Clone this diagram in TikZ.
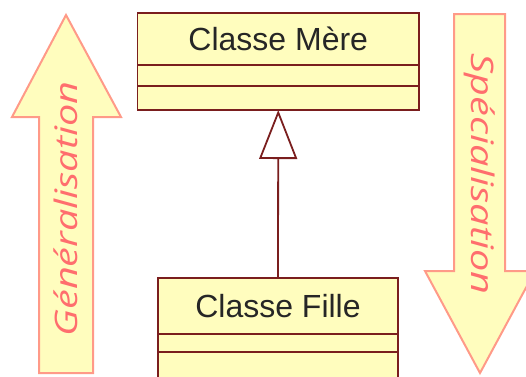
\documentclass[tikz,border=0pt]{standalone}
\usepackage{fontspec}
\setmainfont{Liberation Sans}
\newfontfamily\handfont{Open Sans}
\usetikzlibrary{positioning,arrows.meta}
\definecolor{classfill}{HTML}{FFFDBE}
\definecolor{classline}{HTML}{7A1E1E}
\definecolor{arrowline}{HTML}{FF9A88}
\definecolor{arrowtext}{HTML}{FF6E6E}
\tikzstyle{classname} = [draw=classline, fill=classfill, line width=1.8pt, inner sep=0pt, outer sep=0pt, text=black!85, font=\fontsize{32}{36}\selectfont]
\tikzstyle{compart} = [draw=classline, fill=classfill, line width=1.8pt, inner sep=0pt, outer sep=0pt]
\tikzstyle{inherit} = [draw=classline, line width=1.8pt, -{Triangle[open, length=49pt, width=38pt]}]
\tikzstyle{bigarrow} = [draw=arrowline, fill=classfill, line width=2pt]
\tikzstyle{arrowlabel} = [text=arrowtext, yscale=1.28, font=\handfont\itshape\fontsize{31}{32}\selectfont]

\begin{document}
\begin{tikzpicture}[x=1pt, y=-1pt]
    \clip (0,0) rectangle (526,376);
    % Big arrows
    \path [bigarrow] (39,373) -- (39,117) -- (12,117) -- (66,15) -- (121,117) -- (93,117) -- (93,373) -- cycle;
    \path [bigarrow] (454,14) -- (505,14) -- (505,271) -- (535,271) -- (480,373) -- (425,271) -- (454,271) -- cycle;
    \node [arrowlabel, rotate=90] (general) at (66,209) {Généralisation};
    \node [arrowlabel, rotate=-90] (special) at (480,174) {Spécialisation};
    % Place nodes
    \node [classname, minimum width=281.5pt, minimum height=52pt] (mere) at (278.25,39) {Classe Mère};
    \node [compart, minimum width=281.5pt, minimum height=21pt, below=0pt of mere] (mere-attr) {};
    \node [compart, minimum width=281.5pt, minimum height=24pt, below=0pt of mere-attr] (mere-ops) {};
    \node [classname, minimum width=240pt, minimum height=56pt] (fille) at (278,306) {Classe Fille};
    \node [compart, minimum width=240pt, minimum height=18pt, below=0pt of fille] (fille-attr) {};
    \node [compart, minimum width=240pt, minimum height=30pt, below=0pt of fille-attr] (fille-ops) {};
    % Draw edges
    \path [inherit] (fille.north) -- (mere-ops.south);
\end{tikzpicture}
\end{document}
